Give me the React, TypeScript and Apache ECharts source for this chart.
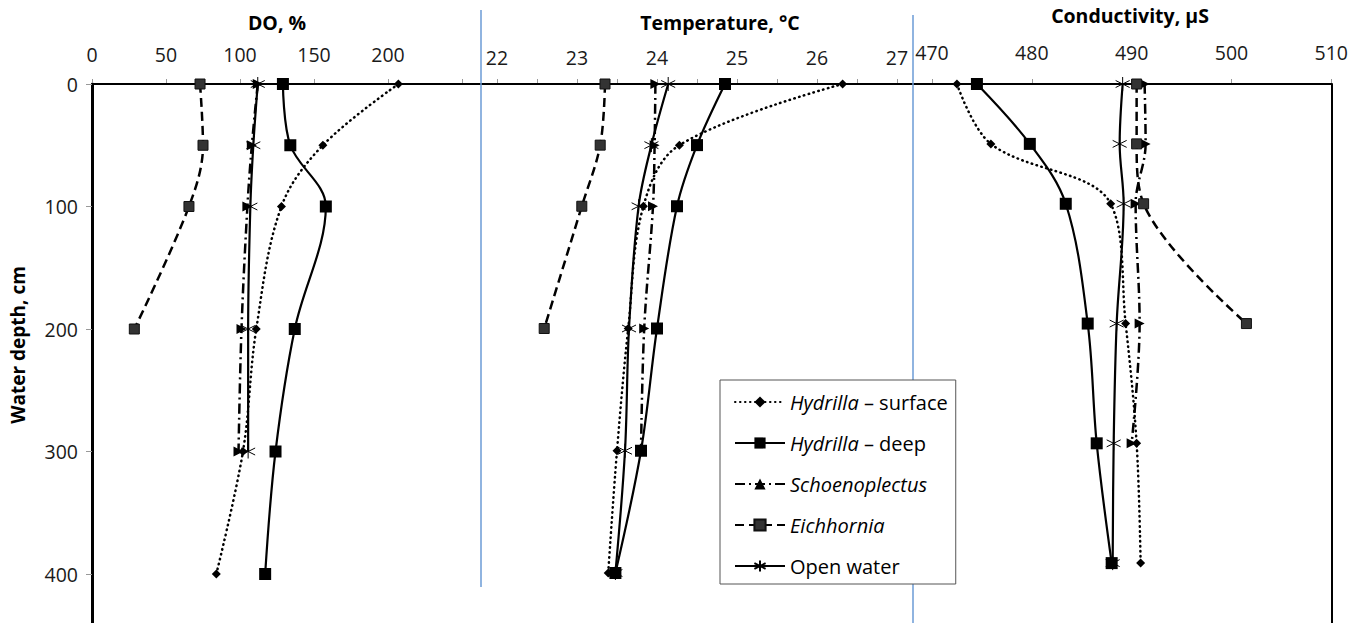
import React, { useEffect, useRef } from "react";
import * as echarts from "echarts";

// ---- data ----
const depthsCm = [0, 50, 100, 200, 300, 400];
const seriesNames = ["Hydrilla – surface", "Hydrilla – deep", "Schoenoplectus", "Eichhornia", "Open water"];

// DO, %
const doHydrillaSurface = [207, 156, 128, 111, 102, 84];
const doHydrillaDeep = [129, 134, 158, 137, 124, 117];
const doSchoenoplectus = [112, 108, 105, 101, 99, null];
const doEichhornia = [73, 75, 65.5, 28.6, null, null];
const doOpenWater = [112, 109, 107, 105.5, 105.5, null];

// Temperature, °C
const tHydrillaSurface = [26.32, 24.28, 23.83, 23.64, 23.5, 23.39];
const tHydrillaDeep = [24.85, 24.5, 24.25, 24.0, 23.8, 23.48];
const tSchoenoplectus = [23.98, 23.97, 23.95, 23.84, 23.8, null];
const tEichhornia = [23.35, 23.29, 23.06, 22.59, null, null];
const tOpenWater = [24.14, 23.93, 23.77, 23.65, 23.6, 23.48];

// Conductivity, µS
const cHydrillaSurface = [472.5, 475.9, 487.9, 489.4, 490.5, 490.9];
const cHydrillaDeep = [474.5, 479.8, 483.4, 485.6, 486.5, 488.0];
const cSchoenoplectus = [491.3, 491.4, 490.4, 490.8, 490.0, null];
const cEichhornia = [490.5, 490.5, 491.2, 501.5, null, null];
const cOpenWater = [489.1, 488.8, 489.2, 488.5, 488.2, 488.1];

const panelTitles = ["DO, %", "Temperature, °C", "Conductivity, µS"];
const yTitle = "Water depth, cm";

const FONT = '"Open Sans", "Noto Sans", sans-serif';
const ASTERISK = "path://M0,-6L0,6M-5.2,-3L5.2,3M-5.2,3L5.2,-3";

const styles: any[] = [
  { symbol: "diamond", symbolSize: 9, lineStyle: { type: [0.5, 4.5], cap: "round", width: 2.5 }, itemStyle: { color: "#000" } },
  { symbol: "rect", symbolSize: 12, lineStyle: { type: "solid", width: 2.2 }, itemStyle: { color: "#000" } },
  { symbol: "triangle", symbolSize: 10, symbolRotate: -90, lineStyle: { type: [10, 4, 2, 4], width: 2.5 }, itemStyle: { color: "#000" } },
  { symbol: "rect", symbolSize: 10, lineStyle: { type: [9, 5], width: 2.5 }, itemStyle: { color: "#333", borderColor: "#111", borderWidth: 1 } },
  { symbol: ASTERISK, symbolSize: 14, lineStyle: { type: "solid", width: 2.2 }, itemStyle: { color: "none", borderColor: "#000", borderWidth: 1 } },
];

function toPoints(vals: (number | null)[]) {
  const out: number[][] = [];
  vals.forEach((v, i) => {
    if (v != null) out.push([v, depthsCm[i]]);
  });
  return out;
}

export default function App() {
  const ref = useRef<HTMLDivElement>(null);
  useEffect(() => {
    if (!ref.current) return;
    const chart = echarts.init(ref.current, undefined, { renderer: "svg" });
    const panels = [
      [doHydrillaSurface, doHydrillaDeep, doSchoenoplectus, doEichhornia, doOpenWater],
      [tHydrillaSurface, tHydrillaDeep, tSchoenoplectus, tEichhornia, tOpenWater],
      [cHydrillaSurface, cHydrillaDeep, cSchoenoplectus, cEichhornia, cOpenWater],
    ];
    const series: any[] = [];
    panels.forEach((panel, p) => {
      panel.forEach((vals, s) => {
        series.push({
          type: "line",
          name: seriesNames[s],
          xAxisIndex: p,
          yAxisIndex: p,
          data: toPoints(vals),
          smooth: 0.35,
          showSymbol: true,
          ...styles[s],
          lineStyle: { color: "#000", ...styles[s].lineStyle },
          emphasis: { disabled: true },
          z: 3,
        });
      });
    });

    const labelStyle = { fontSize: 19.5, fontFamily: FONT, color: "#1a1a1a" };
    const tickStyle = { show: true, inside: false, length: 5, lineStyle: { color: "#999", width: 1 } };

    const option: any = {
      animation: false,
      backgroundColor: "#fff",
      grid: [
        { left: 92, top: 84, width: 370, height: 440 * 1.235 },
        { left: 497, top: 84, width: 400, height: 440 * 1.2225 },
        { left: 932, top: 84, width: 400, height: 450 * 1.2 },
      ],
      xAxis: [
        {
          gridIndex: 0, type: "value", position: "top", min: 0, max: 250, interval: 50,
          axisLine: { show: true, lineStyle: { color: "#000", width: 2 } },
          axisTick: tickStyle, splitLine: { show: false },
          axisLabel: { ...labelStyle, margin: 20, formatter: (v: number) => (v === 250 ? "" : String(v)) },
        },
        {
          gridIndex: 1, type: "value", position: "top", min: 22, max: 27, interval: 0.5,
          axisLine: { show: true, lineStyle: { color: "#000", width: 2 } },
          axisTick: tickStyle, splitLine: { show: false },
          axisLabel: { ...labelStyle, margin: 17, showMinLabel: true, showMaxLabel: true, formatter: (v: number) => (Number.isInteger(v) ? String(v) : "") },
        },
        {
          gridIndex: 2, type: "value", position: "top", min: 470, max: 510, interval: 10,
          axisLine: { show: true, lineStyle: { color: "#000", width: 2 } },
          axisTick: tickStyle, splitLine: { show: false },
          axisLabel: { ...labelStyle, margin: 22 },
        },
      ],
      yAxis: [
        {
          gridIndex: 0, type: "value", inverse: true, min: 0, max: 440, interval: 100,
          axisLine: { show: true, onZero: false, lineStyle: { color: "#000", width: 3 } },
          axisTick: { show: true, length: 6, lineStyle: { color: "#999" } }, splitLine: { show: false },
          axisLabel: { ...labelStyle, margin: 14, formatter: (v: number) => (v > 400 ? "" : String(v)) },
        },
        {
          gridIndex: 1, type: "value", inverse: true, min: 0, max: 440, interval: 100, show: false,
        },
        {
          gridIndex: 2, type: "value", inverse: true, min: 0, max: 450, interval: 100, position: "right",
          axisLine: { show: true, onZero: false, lineStyle: { color: "#000", width: 2 } },
          axisTick: { show: false }, axisLabel: { show: false }, splitLine: { show: false },
        },
      ],
      legend: {
        orient: "vertical",
        left: 720,
        top: 380,
        z: 10,
        data: seriesNames,
        backgroundColor: "#fff",
        borderColor: "#555",
        borderWidth: 1,
        padding: [12, 8, 8, 14],
        itemGap: 21,
        itemWidth: 50,
        itemHeight: 14,
        symbolRotate: 0,
        selectedMode: false,
        formatter: (name: string) => {
          if (name.startsWith("Hydrilla")) return "{i|Hydrilla}" + name.slice(8);
          if (name === "Open water") return name;
          return "{i|" + name + "}";
        },
        textStyle: {
          fontSize: 20, fontFamily: FONT, color: "#000", lineHeight: 20,
          rich: { i: { fontStyle: "italic", fontSize: 20, fontFamily: FONT, color: "#000", lineHeight: 20 } },
        },
      },
      graphic: [
        { type: "line", z: 1, shape: { x1: 92, y1: 84, x2: 1332, y2: 84 }, style: { stroke: "#000", lineWidth: 2 } },
        { type: "line", z: 1, shape: { x1: 481, y1: 10, x2: 481, y2: 587 }, style: { stroke: "#6b9bd6", lineWidth: 1.5 } },
        { type: "line", z: 1, shape: { x1: 913, y1: 15, x2: 913, y2: 623 }, style: { stroke: "#6b9bd6", lineWidth: 1.5 } },
        { type: "text", x: 277, y: 22, style: { text: panelTitles[0], fontSize: 19.5, fontWeight: "bold", fontFamily: FONT, fill: "#000", align: "center", verticalAlign: "middle" } },
        { type: "text", x: 720, y: 22, style: { text: panelTitles[1], fontSize: 19.5, fontWeight: "bold", fontFamily: FONT, fill: "#000", align: "center", verticalAlign: "middle" } },
        { type: "text", x: 1130, y: 15, style: { text: panelTitles[2], fontSize: 19.5, fontWeight: "bold", fontFamily: FONT, fill: "#000", align: "center", verticalAlign: "middle" } },
        { type: "text", x: 18, y: 345, rotation: Math.PI / 2, style: { text: yTitle, fontSize: 19, fontWeight: "bold", fontFamily: FONT, fill: "#000", align: "center", verticalAlign: "middle" } },
      ],
      series,
    };
    chart.setOption(option);
    return () => chart.dispose();
  }, []);
  return <div ref={ref} style={{ position: "absolute", left: 0, top: 0, width: 1351, height: 623, background: "#fff" }} />;
}
